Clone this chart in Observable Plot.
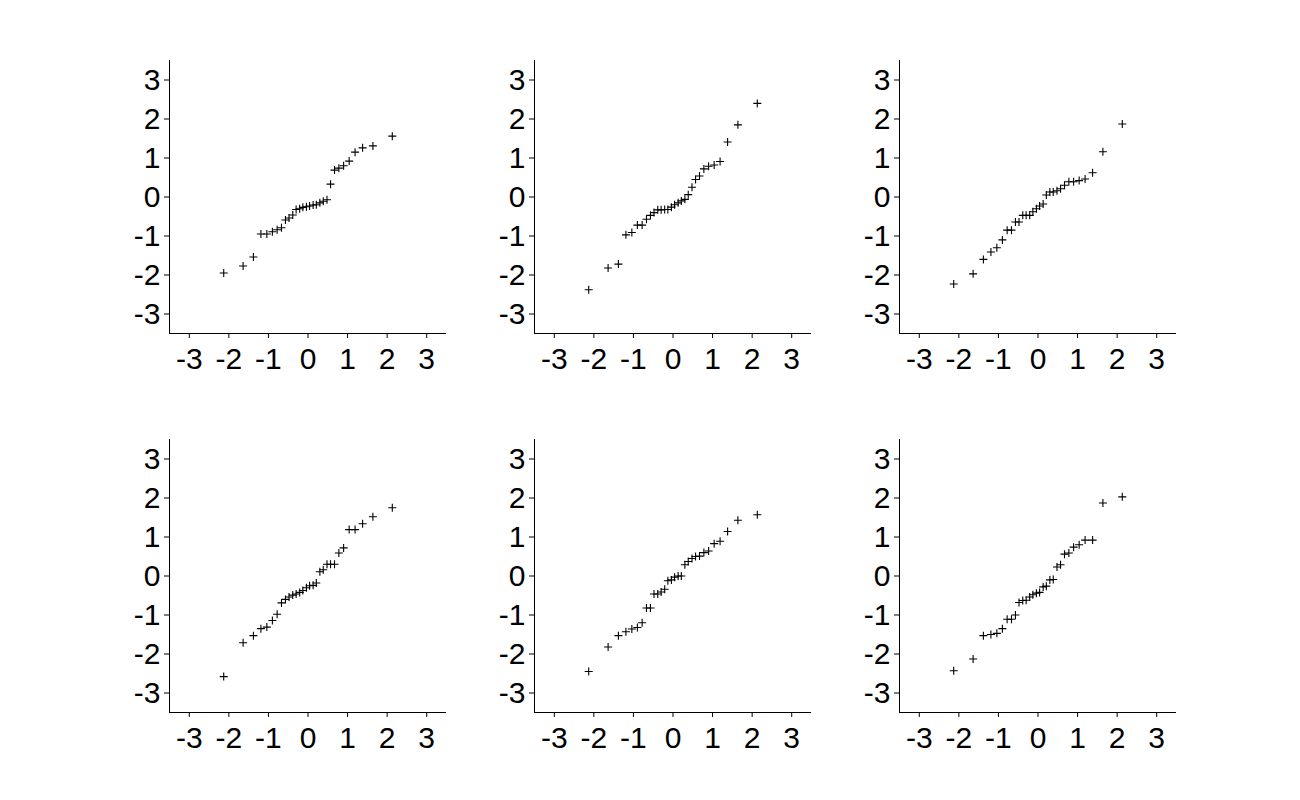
<!DOCTYPE html>
<html>
<head>
<meta charset="utf-8">
<script src="https://cdn.jsdelivr.net/npm/d3@7"></script>
<script src="https://cdn.jsdelivr.net/npm/@observablehq/plot@0.6"></script>
<style>
  html, body { margin: 0; padding: 0; background: #fff; }
  #wrap { position: relative; width: 1300px; height: 800px; overflow: hidden; background: #fff; }
  #wrap > svg { position: absolute; }
  #wrap svg text { font-size: 30px !important; font-family: 'Liberation Sans', Arial, sans-serif !important; fill: #000; }
</style>
</head>
<body>
<div id="wrap"></div>
<script>
// Theoretical normal quantiles (x positions)
const quantiles = [-2.13, -1.64, -1.38, -1.19, -1.04, -0.90, -0.78, -0.67, -0.57, -0.48, -0.385, -0.30, -0.21, -0.13, -0.04,
                    0.04, 0.13, 0.21, 0.30, 0.385, 0.48, 0.57, 0.67, 0.78, 0.90, 1.04, 1.19, 1.38, 1.64, 2.13];

// Sample quantiles for each of the six panels
const panel1 = [-1.95, -1.77, -1.54, -0.95, -0.95, -0.89, -0.84, -0.79, -0.59, -0.54, -0.46, -0.32, -0.30, -0.265, -0.25,
                -0.23, -0.205, -0.20, -0.15, -0.11, -0.07, 0.33, 0.69, 0.74, 0.80, 0.92, 1.15, 1.26, 1.31, 1.56];
const panel2 = [-2.38, -1.82, -1.72, -0.97, -0.91, -0.72, -0.72, -0.57, -0.47, -0.40, -0.33, -0.33, -0.32, -0.32, -0.26,
                -0.20, -0.15, -0.10, -0.06, 0.06, 0.25, 0.45, 0.54, 0.72, 0.79, 0.82, 0.91, 1.41, 1.85, 2.40];
const panel3 = [-2.23, -1.97, -1.60, -1.41, -1.30, -1.10, -0.85, -0.85, -0.64, -0.64, -0.47, -0.47, -0.47, -0.38, -0.30,
                -0.23, -0.18, 0.05, 0.13, 0.13, 0.16, 0.21, 0.30, 0.39, 0.39, 0.42, 0.46, 0.62, 1.16, 1.87];
const panel4 = [-2.58, -1.71, -1.53, -1.35, -1.31, -1.14, -0.98, -0.69, -0.60, -0.54, -0.49, -0.46, -0.42, -0.37, -0.30,
                -0.25, -0.24, -0.18, 0.11, 0.16, 0.30, 0.30, 0.30, 0.59, 0.72, 1.19, 1.19, 1.34, 1.52, 1.75];
const panel5 = [-2.45, -1.82, -1.53, -1.43, -1.36, -1.32, -1.20, -0.82, -0.82, -0.46, -0.46, -0.41, -0.34, -0.12, -0.10,
                -0.03, 0.00, 0.00, 0.29, 0.37, 0.45, 0.50, 0.51, 0.60, 0.64, 0.83, 0.89, 1.14, 1.43, 1.57];
const panel6 = [-2.43, -2.13, -1.53, -1.50, -1.47, -1.35, -1.11, -1.11, -1.00, -0.68, -0.63, -0.62, -0.54, -0.48, -0.44,
                -0.42, -0.28, -0.26, -0.10, -0.09, 0.23, 0.29, 0.56, 0.59, 0.74, 0.80, 0.92, 0.92, 1.87, 2.03];

const tickValues = [-3, -2, -1, 0, 1, 2, 3];
const domain = [-3.5, 3.5];

const panels = [panel1, panel2, panel3, panel4, panel5, panel6];
const colLefts = [169, 534, 899];   // plot-area left edges
const rowTops = [60, 439];          // plot-area top edges
const innerW = 277, innerH = 273;
const mL = 60, mR = 12, mT = 10, mB = 50;

const wrap = document.getElementById("wrap");
panels.forEach((vals, i) => {
  const data = vals.map((v, k) => ({q: quantiles[k], v}));
  const chart = Plot.plot({
    width: innerW + mL + mR,
    height: innerH + mT + mB,
    marginLeft: mL, marginRight: mR, marginTop: mT, marginBottom: mB,
    style: {fontFamily: "'Liberation Sans', Arial, sans-serif", fontSize: "30px", color: "#000", background: "transparent"},
    x: {domain, ticks: tickValues, tickFormat: d => String(d), tickSize: 5, tickPadding: 9, label: null},
    y: {domain, ticks: tickValues, tickFormat: d => String(d), tickSize: 5, tickPadding: 4, label: null},
    marks: [
      Plot.ruleX([domain[0]], {stroke: "#000", strokeWidth: 1}),
      Plot.ruleY([domain[0]], {stroke: "#000", strokeWidth: 1}),
      Plot.dot(data, {x: "q", y: "v", symbol: "plus", r: 2.7, stroke: "#000", strokeWidth: 1.1})
    ]
  });
  chart.style.left = (colLefts[i % 3] - mL) + "px";
  chart.style.top = (rowTops[Math.floor(i / 3)] - mT) + "px";
  wrap.appendChild(chart);
});
</script>
</body>
</html>
